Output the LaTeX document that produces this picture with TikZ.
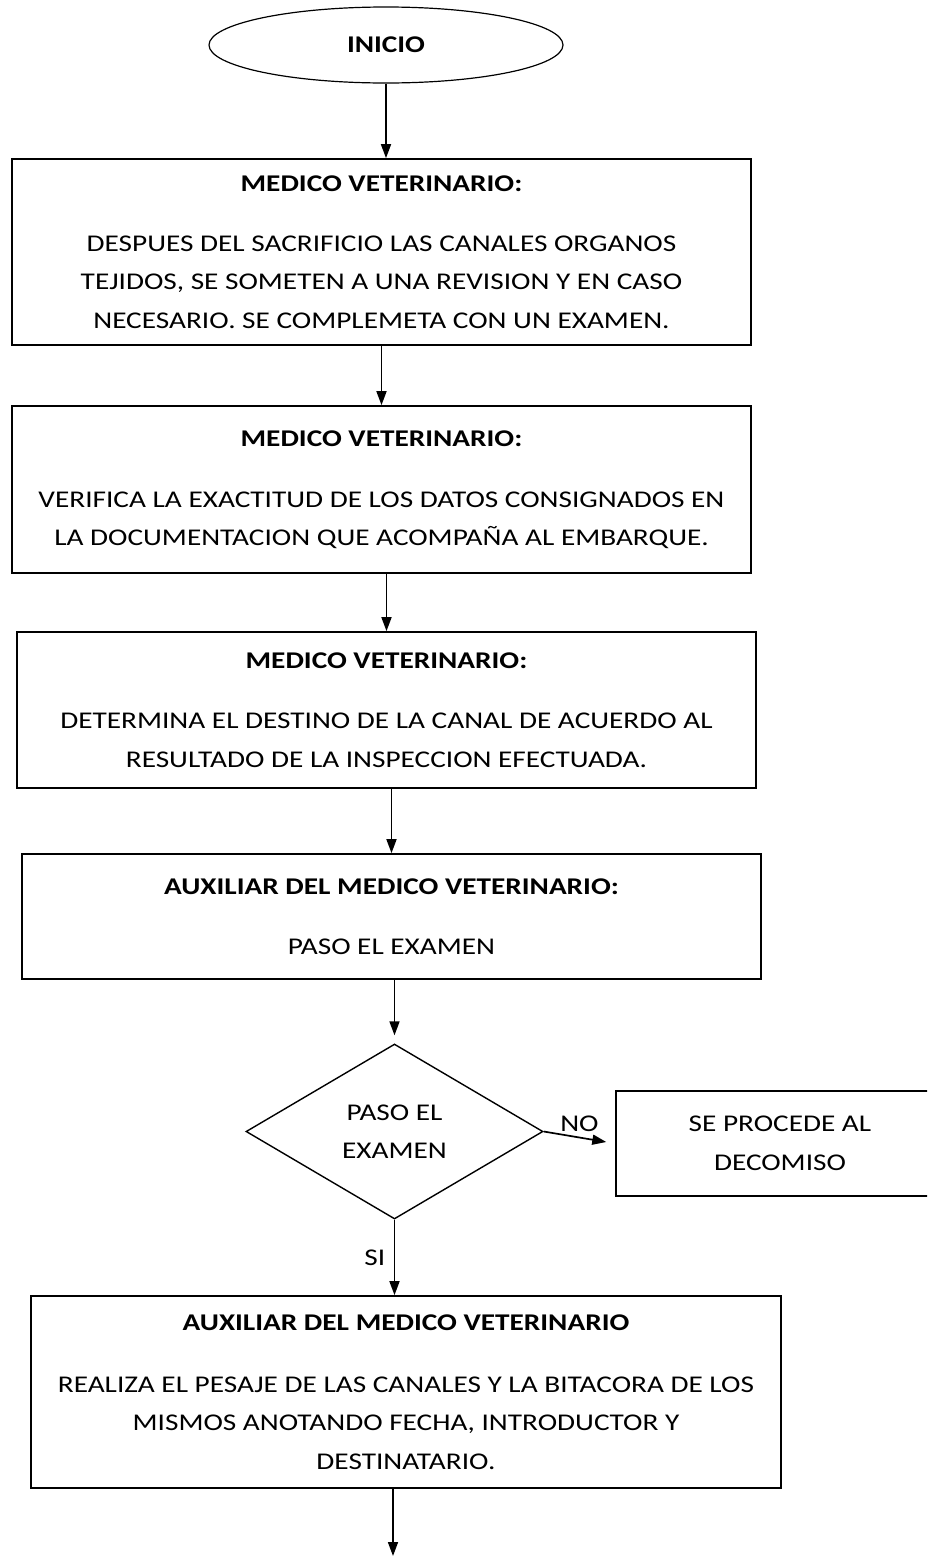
\documentclass[tikz,border=0pt]{standalone}
\usepackage{fontspec}
\setmainfont{Carlito}[FakeStretch=1.22]
\usetikzlibrary{shapes.geometric,arrows.meta}

\begin{document}
\begin{tikzpicture}[x=1pt,y=-1pt,font=\fontsize{24}{38.5}\selectfont,
	caja/.style={draw,line width=1.7pt,inner sep=0pt,align=center,minimum width=739pt},
	flecha/.style={line width=1.7pt,-{Triangle[length=14pt,width=10pt]}}]
	\useasboundingbox(0,0)rectangle(927,1556);
	\clip(0,0)rectangle(927,1556);
	\node[draw,ellipse,line width=1.2pt,inner sep=0pt,minimum width=354pt,minimum height=76pt](inicio)at(386,45){\textbf{INICIO}};
	\node[caja,minimum height=186pt](med1)at(381.5,252){\textbf{MEDICO VETERINARIO:}\\[21.5pt]DESPUES DEL SACRIFICIO LAS CANALES ORGANOS\\TEJIDOS, SE SOMETEN A UNA REVISION Y EN CASO\\NECESARIO. SE COMPLEMETA CON UN EXAMEN.};
	\node[caja,minimum height=167pt](med2)at(381.5,489.5){\textbf{MEDICO VETERINARIO:}\\[22.5pt]VERIFICA LA EXACTITUD DE LOS DATOS CONSIGNADOS EN\\LA DOCUMENTACION QUE ACOMPAÑA AL EMBARQUE.};
	\node[caja,minimum height=156pt](med3)at(386.5,710){\textbf{MEDICO VETERINARIO:}\\[21.5pt]DETERMINA EL DESTINO DE LA CANAL DE ACUERDO AL\\RESULTADO DE LA INSPECCION EFECTUADA.};
	\node[caja,minimum height=125pt](aux1)at(391.5,916.5){\textbf{AUXILIAR DEL MEDICO VETERINARIO:}\\[21.5pt]PASO EL EXAMEN};
	\node[draw,diamond,line width=1.4pt,inner sep=0pt,align=center,minimum width=297pt,minimum height=175pt](decision)at(394.5,1131.5){PASO EL\\EXAMEN};
	\node[draw,line width=1.7pt,inner sep=0pt,align=center,minimum width=328pt,minimum height=105pt](decomiso)at(780,1143.5){SE PROCEDE AL\\DECOMISO};
	\node[caja,minimum width=750pt,minimum height=192pt](aux2)at(406,1392){\textbf{AUXILIAR DEL MEDICO VETERINARIO}\\[23.5pt]REALIZA EL PESAJE DE LAS CANALES Y LA BITACORA DE LOS\\MISMOS ANOTANDO FECHA, INTRODUCTOR Y\\DESTINATARIO.};
	\coordinate(fin)at(393,1556);
	\draw[flecha](inicio.south)--(inicio.south|-med1.north);
	\draw[flecha](med1.south)--(med1.south|-med2.north);
	\draw[flecha](med3.north|-med2.south)--(med3.north);
	\draw[flecha](aux1.north|-med3.south)--(aux1.north);
	\draw[flecha,shorten >=8pt](decision.north|-aux1.south)--(decision.north);
	\draw[flecha,shorten >=9pt](decision.east)--(decomiso.west)node[midway,above=2pt]{NO};
	\draw[flecha](decision.south)--(decision.south|-aux2.north)node[midway,left=5pt]{SI};
	\draw[flecha](fin|-aux2.south)--(fin);
\end{tikzpicture}
\end{document}
